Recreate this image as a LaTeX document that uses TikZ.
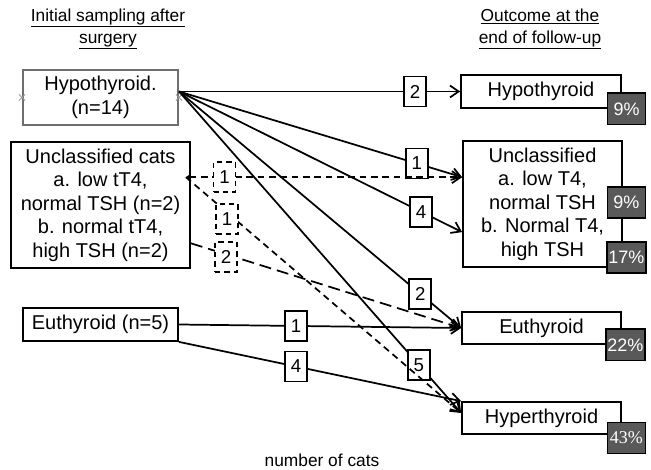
\documentclass[tikz,border=0pt]{standalone}
\usepackage{fontspec}
\setmainfont{Liberation Sans}
\newfontfamily\pctserif{Liberation Serif}
\usetikzlibrary{arrows.meta, positioning, calc, shapes.misc}
\definecolor{pctgray}{RGB}{89,89,89}
\definecolor{hypoborder}{RGB}{110,110,110}
\tikzset{
    groupbox/.style={rectangle, draw=black, line width=1.3pt, fill=white, align=center, inner sep=2pt, font=\fontsize{15}{17.6}\selectfont},
    pctbox/.style={rectangle, draw=black, line width=1.3pt, fill=pctgray, text=white, minimum width=28.5pt, minimum height=23.3pt, inner sep=1pt, font=\fontsize{13.5}{15}\selectfont},
    numbox/.style={rectangle, draw=black, line width=1.3pt, fill=white, minimum width=16.5pt, minimum height=22.5pt, inner sep=1pt, font=\fontsize{14}{15}\selectfont},
    arrow/.style={-{Straight Barb[length=6.5pt, width=9pt]}, line width=1.3pt},
}

\begin{document}
\begin{tikzpicture}[
    x=0.75pt, y=-0.75pt,
    heading/.style={align=center, inner sep=1pt, font=\fontsize{13}{16.5}\selectfont},
    xmark/.style={cross out, draw=black!40, minimum size=4pt, inner sep=0pt, line width=0.6pt},
    dasharrow/.style={arrow, dash pattern=on 5pt off 3.5pt},
    longdash/.style={arrow, dash pattern=on 9pt off 4.5pt},
    dashnum/.style={numbox, dash pattern=on 4pt off 3pt}
]
\useasboundingbox (0,0) rectangle (651,470);

% Initial sampling (left column)
\node[heading] (init-title) at (108,29) {\underline{Initial sampling after}\\\underline{surgery}};
\node[groupbox, draw=hypoborder, line width=1.5pt, minimum width=116.3pt, minimum height=41.3pt] (hypoL) at (100.5,97.5) {Hypothyroid.\\(n=14)};
\node[xmark] (hypoL-mk1) at (hypoL.west) {};
\node[xmark] (hypoL-mk2) at (hypoL.east) {};
\node[groupbox, minimum width=134.3pt, minimum height=94.5pt] (unclL) at (100.5,205) {Unclassified cats\\a. low tT4,\\normal TSH (n=2)\\b. normal tT4,\\high TSH (n=2)};
\node[groupbox, minimum width=116.3pt, minimum height=24.8pt] (euthL) at (100.5,324.5) {Euthyroid (n=5)};

% Outcome (right column)
\node[heading] (out-title) at (540,29) {\underline{Outcome at the}\\\underline{end of follow-up}};
\node[groupbox, minimum width=120pt, minimum height=24.8pt] (hypoR) at (541,91.5) {Hypothyroid};
\node[groupbox, minimum width=119.3pt, minimum height=94.5pt] (unclR) at (542.5,204) {Unclassified\\a. low T4,\\normal TSH\\b. Normal T4,\\high TSH};
\node[groupbox, minimum width=119.3pt, minimum height=24pt] (euthR) at (541.5,328) {Euthyroid};
\node[groupbox, minimum width=119.3pt, minimum height=24pt] (hyperR) at (541.5,418) {Hyperthyroid};

% Percentages
\node[pctbox] (pct-hypo) at ([xshift=3.5pt]hypoR.south east) {9\%};
\node[pctbox] (pct-uncl-a) at ([xshift=2.6pt, yshift=1pt]unclR.east) {9\%};
\node[pctbox] (pct-uncl-b) at ([xshift=2.6pt, yshift=8pt]unclR.south east) {17\%};
\node[pctbox] (pct-euth) at ([xshift=2.6pt]euthR.south east) {22\%};
\node[pctbox] (pct-hyper) at ([xshift=3.4pt, yshift=-2.3pt]hyperR.south east) {\pctserif 43\%};

% Connection points
\coordinate (hypo-out) at (hypoL.east |- hypoR.west);
\coordinate (uncl-in1) at ($(unclR.north west)!0.29!(unclR.south west)$);
\coordinate (uncl-in2) at ($(unclR.north west)!0.72!(unclR.south west)$);
\coordinate (hyper-in) at ($(hyperR.north west)!0.35!(hyperR.south west)$);
\coordinate (uncl-out) at ($(unclL.east |- uncl-in1)+(-5,0)$);
\coordinate (uncl-out2) at ($(unclL.north east)!0.8!(unclL.south east)$);

% Hypothyroid (n=14)
\draw[arrow] (hypo-out) -- node[numbox, pos=0.84] (n-hh) {2} (hypoR.west);
\draw[arrow] (hypo-out) -- node[numbox, pos=0.84] (n-hu1) {1} (uncl-in1);
\draw[arrow] (hypo-out) -- node[numbox, pos=0.855] (n-hu2) {4} (uncl-in2);
\draw[arrow] (hypo-out) -- node[numbox, pos=0.855] (n-he) {2} (euthR.west);
\draw[arrow] (hypo-out) -- node[numbox, pos=0.85] (n-hy) {5} (hyper-in);

% Unclassified cats
\draw[dasharrow, {Triangle[length=3pt, width=4pt]}-{Straight Barb[length=6.5pt, width=9pt]}] (uncl-out) -- node[dashnum, pos=0.14] (n-uu) {1} (uncl-in1);
\draw[dasharrow] (uncl-out) -- node[dashnum, pos=0.15, yshift=-5pt] (n-uy) {1} (hyper-in);
\draw[longdash] (uncl-out2) -- node[dashnum, pos=0.13, yshift=-2pt] (n-ue) {2} (euthR.west);

% Euthyroid (n=5)
\draw[arrow] (euthL.east) -- node[numbox, pos=0.415] (n-ee) {1} (euthR.west);
\draw[arrow] (euthL.south east) -- node[numbox, pos=0.415] (n-ey) {4} (hyperR.north west);

\node[heading] (ncats) at (322,460) {number of cats};

\end{tikzpicture}
\end{document}
